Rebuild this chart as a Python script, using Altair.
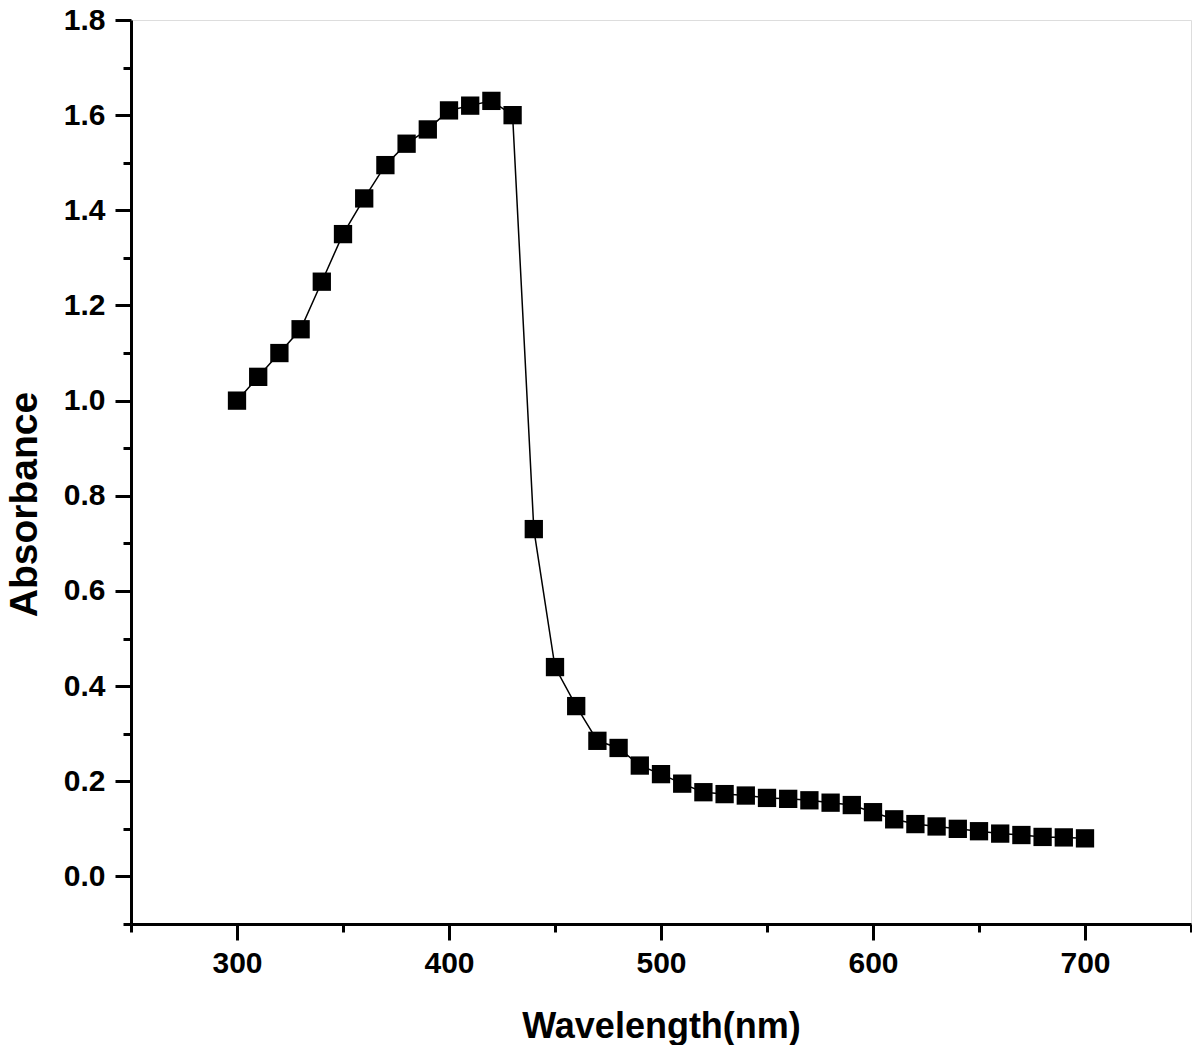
import altair as alt
import pandas as pd

wavelength = [300, 310, 320, 330, 340, 350, 360, 370, 380, 390,
              400, 410, 420, 430, 440, 450, 460, 470, 480, 490,
              500, 510, 520, 530, 540, 550, 560, 570, 580, 590,
              600, 610, 620, 630, 640, 650, 660, 670, 680, 690, 700]
absorbance = [1.00, 1.05, 1.10, 1.15, 1.25, 1.35, 1.425, 1.495, 1.54, 1.57,
              1.61, 1.62, 1.63, 1.60, 0.73, 0.44, 0.358, 0.285, 0.27, 0.233,
              0.215, 0.195, 0.177, 0.173, 0.170, 0.165, 0.163, 0.160, 0.155, 0.150,
              0.135, 0.120, 0.110, 0.105, 0.100, 0.095, 0.090, 0.087, 0.083, 0.082, 0.080]

x_ticks = [250, 300, 350, 400, 450, 500, 550, 600, 650, 700, 750]
y_ticks = [-0.1, 0.0, 0.1, 0.2, 0.3, 0.4, 0.5, 0.6, 0.7, 0.8, 0.9,
           1.0, 1.1, 1.2, 1.3, 1.4, 1.5, 1.6, 1.7, 1.8]

df = pd.DataFrame({"wl": wavelength, "abs": absorbance})

FONT = "Liberation Sans"

x_axis = alt.Axis(
    values=x_ticks,
    labelExpr="datum.value % 100 == 0 ? datum.label : ''",
    tickSize={"condition": {"test": "datum.value % 100 == 0", "value": 16}, "value": 8},
    tickWidth=3, tickColor="black",
    domainWidth=3, domainColor="black",
    grid=False,
    labelFont=FONT, labelFontSize=30, labelFontWeight="bold", labelColor="black",
    labelPadding=8, labelOverlap=False, labelFlush=False,
    title="Wavelength(nm)",
    titleFont=FONT, titleFontSize=36, titleFontWeight="bold", titleColor="black",
    titleY=113, titleBaseline="alphabetic",
)

y_axis = alt.Axis(
    values=y_ticks,
    labelExpr="round(datum.value*10) % 2 == 0 ? format(datum.value, '.1f') : ''",
    tickSize={"condition": {"test": "round(datum.value*10) % 2 == 0", "value": 16}, "value": 8},
    tickWidth=3, tickColor="black",
    domainWidth=3, domainColor="black",
    grid=False,
    labelFont=FONT, labelFontSize=30, labelFontWeight="bold", labelColor="black",
    labelPadding=10, labelOverlap=False, labelFlush=False,
    title="Absorbance",
    titleFont=FONT, titleFontSize=39, titleFontWeight="bold", titleColor="black",
    titleX=-107, titleY=484, titleAngle=-90, titleAlign="center", titleBaseline="middle",
)

x_enc = alt.X("wl:Q", scale=alt.Scale(domain=[250, 750], nice=False, zero=False), axis=x_axis)
y_enc = alt.Y("abs:Q", scale=alt.Scale(domain=[-0.1, 1.8], nice=False, zero=False), axis=y_axis)

line = alt.Chart(df).mark_line(color="black", strokeWidth=1.5).encode(x=x_enc, y=y_enc)
pts = alt.Chart(df).mark_square(color="black", size=335, opacity=1, filled=True).encode(x=x_enc, y=y_enc)

chart = alt.layer(line, pts).properties(
    width=1060, height=904,
    autosize=alt.AutoSizeParams(type="none"),
    padding={"left": 123, "top": 12, "right": 1, "bottom": 121},
).configure_view(stroke="black", strokeWidth=3).configure(background="white")

chart.save("out.html", embed_options={"renderer": "svg", "actions": False})
